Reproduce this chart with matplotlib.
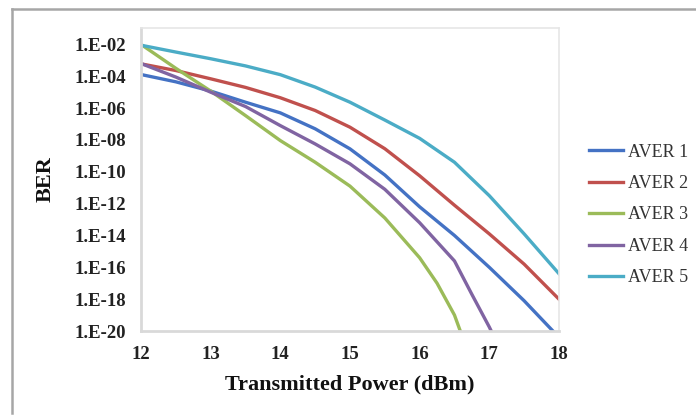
import matplotlib
matplotlib.use("Agg")
import matplotlib.pyplot as plt
import numpy as np
from matplotlib.lines import Line2D
from matplotlib.ticker import FixedLocator, FuncFormatter

# transmitted power (dBm) and log10(BER)
power = [12, 12.5, 13, 13.5, 14, 14.5, 15, 15.5, 16, 16.5, 17, 17.5, 18]
power_aver3 = [12, 12.5, 13, 13.5, 14, 14.5, 15, 15.5, 16, 16.25, 16.5, 16.75]
power_aver4 = [12, 12.5, 13, 13.5, 14, 14.5, 15, 15.5, 16, 16.5, 16.75, 17, 17.25]

log_aver1 = [-3.89, -4.35, -4.93, -5.63, -6.3, -7.3, -8.56, -10.2, -12.2, -14.0, -16.0, -18.1, -20.4]
log_aver2 = [-3.22, -3.64, -4.16, -4.7, -5.35, -6.15, -7.2, -8.55, -10.25, -12.1, -13.9, -15.8, -18.0]
log_aver3 = [-2.0, -3.5, -4.93, -6.47, -8.04, -9.4, -10.9, -12.9, -15.4, -17.0, -19.0, -22.0]
log_aver4 = [-3.2, -4.05, -5.0, -5.9, -7.1, -8.25, -9.5, -11.1, -13.2, -15.6, -17.7, -19.75, -22.0]
log_aver5 = [-2.05, -2.48, -2.9, -3.35, -3.9, -4.68, -5.63, -6.75, -7.9, -9.4, -11.5, -13.9, -16.4]

labels = ["AVER 1", "AVER 2", "AVER 3", "AVER 4", "AVER 5"]
colors = ["#4472C4", "#C0504D", "#9BBB59", "#8064A2", "#4BACC6"]
xs = [power, power, power_aver3, power_aver4, power]
series = [log_aver1, log_aver2, log_aver3, log_aver4, log_aver5]

y_ticks = [-2, -4, -6, -8, -10, -12, -14, -16, -18, -20]

plt.rcParams["font.family"] = ["Liberation Serif", "DejaVu Serif"]

fig = plt.figure(figsize=(6.96, 4.15), dpi=100)
ax = fig.add_axes([0.2026, 0.2024, 0.6005, 0.7301])

for x, vals, lab, col in zip(xs, series, labels, colors):
    ber = 10.0 ** np.array(vals)
    ax.plot(x, ber, color=col, lw=2.4, label=lab, solid_joinstyle="round")

ax.set_yscale("log")
ax.set_xlim(12, 18)
ax.set_ylim(1e-20, 10 ** -0.97)
ax.yaxis.set_major_locator(FixedLocator([10.0 ** t for t in y_ticks]))
ax.yaxis.set_minor_locator(FixedLocator([]))
ax.yaxis.set_major_formatter(FuncFormatter(
    lambda v, p: "1.E-%02d" % int(round(-np.log10(v)))))
ax.set_xticks([12, 13, 14, 15, 16, 17, 18])

ax.tick_params(length=0, labelsize=13.5, pad=11)
for t in ax.get_xticklabels() + ax.get_yticklabels():
    t.set_fontweight("bold")
    t.set_color("#222222")

for s in ["top", "right"]:
    ax.spines[s].set_color("#e6e6e6")
    ax.spines[s].set_linewidth(1.2)
for s in ["left", "bottom"]:
    ax.spines[s].set_color("#d9d9d9")
    ax.spines[s].set_linewidth(2.0)

ax.set_xlabel("Transmitted Power (dBm)", fontsize=16, fontweight="bold",
              labelpad=8, color="#111111")
ax.set_ylabel("BER", fontsize=16, fontweight="bold", labelpad=13,
              color="#111111")

leg = fig.legend(loc="center left", bbox_to_anchor=(0.846, 0.482),
                 frameon=False, fontsize=13, handlelength=1.9,
                 handletextpad=0.25, labelspacing=0.8, borderpad=0,
                 borderaxespad=0)
for t in leg.get_texts():
    t.set_color("#333333")

# outer chart border (top and left edges visible)
fig.add_artist(Line2D([12 / 696, 1.0], [1 - 9 / 415, 1 - 9 / 415],
                      transform=fig.transFigure, color="#a6a6a6", lw=1.8))
fig.add_artist(Line2D([12 / 696, 12 / 696], [1 - 9 / 415, 1 - 413 / 415],
                      transform=fig.transFigure, color="#a6a6a6", lw=1.8))

fig.savefig("out.png", dpi=100)
